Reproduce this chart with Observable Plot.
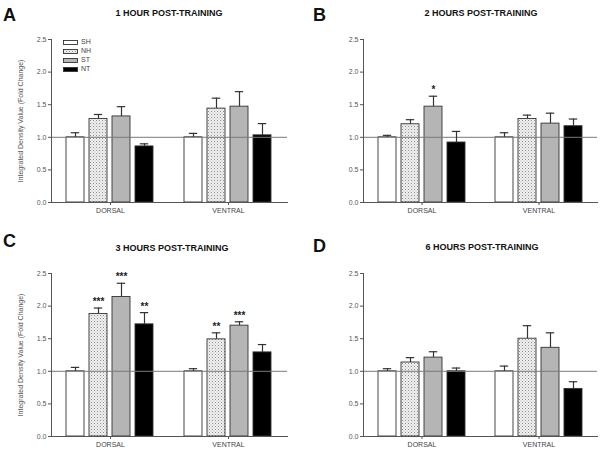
<!DOCTYPE html>
<html>
<head>
<meta charset="utf-8">
<script src="https://cdn.jsdelivr.net/npm/d3@7"></script>
<script src="https://cdn.jsdelivr.net/npm/@observablehq/plot@0.6"></script>
<style>
  html, body { margin: 0; padding: 0; background: #fff; }
  #chart { position: relative; width: 601px; height: 451px; font-family: "Liberation Sans", Arial, sans-serif; overflow: hidden; }
  .panel { position: absolute; }
  .letter { position: absolute; font-weight: bold; font-size: 18px; line-height: 1; color: #111; }
  .title { position: absolute; font-weight: bold; font-size: 9px; line-height: 1; color: #111; white-space: nowrap; transform: translateX(-50%); }
</style>
</head>
<body>
<svg width="0" height="0" style="position:absolute">
  <defs>
    <pattern id="dots" width="3" height="3" patternUnits="userSpaceOnUse">
      <rect width="3" height="3" fill="#f2f2f2"></rect>
      <rect x="0" y="0" width="1" height="1" fill="#8a8a8a"></rect>
      <rect x="1.5" y="1.5" width="1" height="1" fill="#b0b0b0"></rect>
    </pattern>
  </defs>
</svg>
<div id="chart"></div>
<script>
// ---- data ----
const groups = ["DORSAL", "VENTRAL"];
const series = ["SH", "NH", "ST", "NT"];
const fills = ["#ffffff", "url(#dots)", "#b5b5b5", "#000000"];
const yTicks = [0, 0.5, 1.0, 1.5, 2.0, 2.5];

const titles = ["1 HOUR POST-TRAINING", "2 HOURS POST-TRAINING", "3 HOURS POST-TRAINING", "6 HOURS POST-TRAINING"];
const letters = ["A", "B", "C", "D"];
const yLabel = "Integrated Density Value (Fold Change)";

// means (DORSAL SH,NH,ST,NT, VENTRAL SH,NH,ST,NT)
const meansA = [1.00, 1.28, 1.32, 0.86, 1.00, 1.44, 1.47, 1.03];
const topsA  = [1.07, 1.35, 1.47, 0.90, 1.06, 1.60, 1.70, 1.21];
const sigA   = ["", "", "", "", "", "", "", ""];

const meansB = [1.00, 1.20, 1.47, 0.92, 1.00, 1.28, 1.21, 1.17];
const topsB  = [1.03, 1.27, 1.63, 1.09, 1.07, 1.34, 1.37, 1.28];
const sigB   = ["", "", "*", "", "", "", "", ""];

const meansC = [1.00, 1.88, 2.14, 1.72, 1.00, 1.49, 1.70, 1.29];
const topsC  = [1.06, 1.97, 2.35, 1.90, 1.04, 1.59, 1.76, 1.41];
const sigC   = ["", "***", "***", "**", "", "**", "***", ""];

const meansD = [1.00, 1.135, 1.21, 1.00, 1.00, 1.50, 1.36, 0.73];
const topsD  = [1.04, 1.21, 1.30, 1.05, 1.08, 1.70, 1.59, 0.84];
const sigD   = ["", "", "", "", "", "", "", ""];

function rowsOf(means, tops, sig) {
  return means.map((m, i) => ({
    group: groups[Math.floor(i / 4)],
    series: series[i % 4],
    mean: m,
    top: tops[i],
    sig: sig[i]
  }));
}

const layout = [
  {left: 0,   top: 0,   w: 300, h: 225, ml: 51, mr: 13, mt: 39, mb: 23, label: true,
   letter: [3, 6], title: [169, 9]},
  {left: 300, top: 0,   w: 301, h: 225, ml: 63, mr: 4,  mt: 39, mb: 23, label: false,
   letter: [313, 6], title: [481, 9]},
  {left: 0,   top: 225, w: 300, h: 226, ml: 50, mr: 13, mt: 48, mb: 15, label: true,
   letter: [3, 232], title: [172, 244]},
  {left: 300, top: 225, w: 301, h: 226, ml: 63, mr: 4,  mt: 48, mb: 15, label: false,
   letter: [313, 237], title: [482, 243]}
];

const data = [
  rowsOf(meansA, topsA, sigA),
  rowsOf(meansB, topsB, sigB),
  rowsOf(meansC, topsC, sigC),
  rowsOf(meansD, topsD, sigD)
];

const chart = document.getElementById("chart");

function makePanel(k) {
  const L = layout[k];
  const rows = data[k];
  const plot = Plot.plot({
    width: L.w,
    height: L.h,
    marginLeft: L.ml,
    marginRight: L.mr,
    marginTop: L.mt,
    marginBottom: L.mb,
    style: {fontFamily: "Liberation Sans, Arial, sans-serif", fontSize: "7px", color: "#444", background: "transparent"},
    fx: {domain: groups, paddingInner: 0, paddingOuter: 0, label: null},
    x: {domain: series, paddingInner: 0.2, paddingOuter: 0.62, axis: null},
    y: {domain: [0, 2.5]},
    color: {domain: series, range: fills},
    marks: [
      Plot.barY(rows, {fx: "group", x: "series", y: "mean", fill: "series", stroke: "#333", strokeWidth: 0.9}),
      Plot.ruleY([1], {stroke: "#7a7a7a", strokeWidth: 1}),
      Plot.ruleX(rows, {fx: "group", x: "series", y1: "mean", y2: "top", stroke: "#333", strokeWidth: 1.2}),
      Plot.tickY(rows, {fx: "group", x: "series", y: "top", insetLeft: 4.8, insetRight: 4.8, stroke: "#333", strokeWidth: 1.2}),
      Plot.text(rows.filter(d => d.sig), {fx: "group", x: "series", y: "top", text: "sig", dy: -3, lineAnchor: "bottom", fontSize: 10, fontWeight: "bold", fill: "#222"}),
      Plot.axisY({ticks: yTicks, tickFormat: ".1f", tickSize: 3, tickPadding: 2, stroke: "#555", fill: "#555",
                  label: L.label ? yLabel : null, labelAnchor: "center", labelOffset: 33, labelArrow: "none"}),
      Plot.axisFx({anchor: "bottom", tickSize: 3, tickPadding: 3, label: null, stroke: "#555", fill: "#444"}),
      Plot.frame({anchor: "left", facet: "super", stroke: "#555"}),
      Plot.frame({anchor: "bottom", facet: "super", stroke: "#555"})
    ]
  });
  plot.classList.add("panel");
  plot.style.left = L.left + "px";
  plot.style.top = L.top + "px";
  chart.appendChild(plot);

  const letter = document.createElement("div");
  letter.className = "letter";
  letter.textContent = letters[k];
  letter.style.left = L.letter[0] + "px";
  letter.style.top = L.letter[1] + "px";
  chart.appendChild(letter);

  const title = document.createElement("div");
  title.className = "title";
  title.textContent = titles[k];
  title.style.left = L.title[0] + "px";
  title.style.top = L.title[1] + "px";
  chart.appendChild(title);
}

for (let k = 0; k < 4; k++) makePanel(k);

// legend (panel A)
const leg = d3.select(chart).append("svg")
  .attr("width", 60).attr("height", 40)
  .style("position", "absolute").style("left", "60px").style("top", "36px");
series.forEach((s, i) => {
  leg.append("rect")
    .attr("x", 3.5).attr("y", 4.5 + i * 9).attr("width", 14).attr("height", 4)
    .attr("fill", fills[i]).attr("stroke", "#333").attr("stroke-width", 0.9);
  leg.append("text")
    .attr("x", 21).attr("y", 6.5 + i * 9)
    .attr("dominant-baseline", "middle")
    .attr("font-family", "Liberation Sans, Arial, sans-serif")
    .attr("font-size", 7).attr("fill", "#444")
    .text(s);
});
</script>
</body>
</html>
